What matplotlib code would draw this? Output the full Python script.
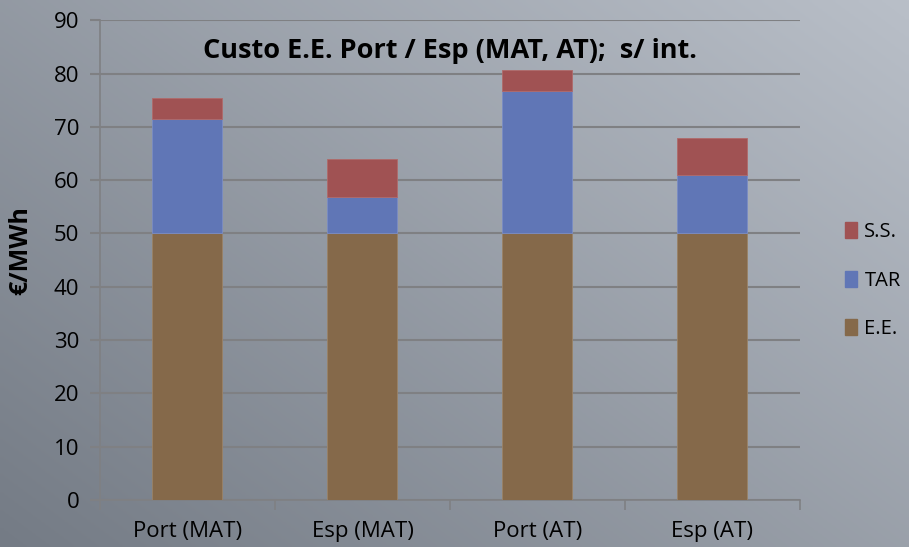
import numpy as np
import matplotlib.pyplot as plt
from matplotlib.patches import Patch

# Data
categories = ['Port (MAT)', 'Esp (MAT)', 'Port (AT)', 'Esp (AT)']
ee = [50, 50, 50, 50]
tar = [21.4, 6.8, 26.7, 10.9]
ss = [4.0, 7.1, 3.9, 7.0]
yticks = [0, 10, 20, 30, 40, 50, 60, 70, 80, 90]

c_ee = '#85694a'
c_tar = '#6076b6'
c_ss = '#a05253'
grid_c = '#7f8083'

plt.rcParams['font.family'] = ['Open Sans', 'DejaVu Sans']

fig = plt.figure(figsize=(9.09, 5.47), dpi=100)

# Gradient background (darker bottom-left, lighter top-right)
bg = fig.add_axes([0, 0, 1, 1], zorder=-10)
xx, yy = np.meshgrid(np.linspace(0, 1, 200), np.linspace(0, 1, 200))
t = (0.55 * xx + 0.45 * yy)
dark = np.array([116, 123, 133]) / 255
light = np.array([185, 191, 200]) / 255
img = dark[None, None, :] + (light - dark)[None, None, :] * t[:, :, None]
bg.imshow(img, origin='lower', extent=[0, 1, 0, 1], aspect='auto')
bg.axis('off')

ax = fig.add_axes([0.110, 0.086, 0.770, 0.877])
ax.patch.set_alpha(0)

x = np.arange(len(categories))
w = 0.4
ax.bar(x, ee, w, color=c_ee, edgecolor='#9a8266', linewidth=0.6, zorder=3, label='E.E.')
ax.bar(x, tar, w, bottom=ee, color=c_tar, edgecolor='#7a8cc4', linewidth=0.6, zorder=3, label='TAR')
bottoms = np.array(ee) + np.array(tar)
ax.bar(x, ss, w, bottom=bottoms, color=c_ss, edgecolor='#b06a6a', linewidth=0.6, zorder=3, label='S.S.')

ax.set_xlim(-0.5, len(categories) - 0.5)
ax.set_ylim(0, 90)
ax.set_yticks(yticks)
ax.set_yticklabels([str(v) for v in yticks], fontsize=16)
ax.yaxis.grid(True, color=grid_c, linewidth=1.5, zorder=0)
ax.set_axisbelow(True)

ax.set_xticks(x)
ax.set_xticklabels(categories, fontsize=16)
ax.tick_params(axis='x', length=0, pad=15)
ax.set_xticks(np.arange(len(categories) + 1) - 0.5, minor=True)
ax.tick_params(axis='x', which='minor', length=7, color=grid_c, width=1.2)
ax.tick_params(axis='y', length=7, color=grid_c, width=1.5, pad=8)

for s in ['top', 'right']:
    ax.spines[s].set_visible(False)
for s in ['left', 'bottom']:
    ax.spines[s].set_color(grid_c)
    ax.spines[s].set_linewidth(1.2)

ax.set_ylabel('€/MWh', fontsize=18, fontweight='bold', labelpad=6)
ax.yaxis.set_label_coords(-0.095, 0.52)

ax.text(0.5, 0.935, 'Custo E.E. Port / Esp (MAT, AT);  s/ int.', transform=ax.transAxes,
        ha='center', va='center', fontsize=19.5, fontweight='bold', color='black')

handles = [Patch(color=c_ss, label='S.S.'), Patch(color=c_tar, label='TAR'), Patch(color=c_ee, label='E.E.')]
fig.legend(handles=handles, loc='center left', bbox_to_anchor=(0.921, 0.487), frameon=False,
           fontsize=14.5, handlelength=0.6, handleheight=0.85, handletextpad=0.35, labelspacing=1.4,
           borderaxespad=0)

fig.savefig('out.png', dpi=100)
